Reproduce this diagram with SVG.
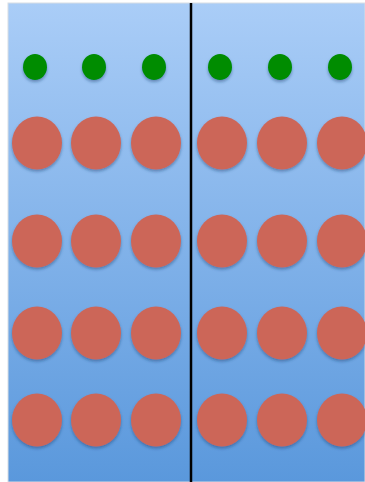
<svg xmlns="http://www.w3.org/2000/svg" width="365" height="482" viewBox="0 0 365 482">
<defs>
<linearGradient id="bg" x1="0" y1="0" x2="0" y2="1">
<stop offset="0" stop-color="#aacdf7"/>
<stop offset="1" stop-color="#5a98dc"/>
</linearGradient>
<filter id="sh" x="-30%" y="-30%" width="160%" height="170%">
<feGaussianBlur in="SourceAlpha" stdDeviation="1.5"/>
<feOffset dy="2" result="b"/>
<feFlood flood-color="#1a3d6b" flood-opacity="0.45"/>
<feComposite in2="b" operator="in"/>
<feMerge><feMergeNode/><feMergeNode in="SourceGraphic"/></feMerge>
</filter>
</defs>
<style>
.g{fill:#008c00;filter:url(#sh)}
.r{fill:#cc6659;filter:url(#sh)}
</style>
<rect width="365" height="482" fill="#ffffff"/>
<rect x="8" y="3" width="357" height="479" fill="url(#bg)" stroke="#d8dde3" stroke-width="1"/>
<g id="connectors">
<line x1="191" y1="3" x2="191" y2="482" stroke="#000" stroke-width="2.5"/>
</g>
<g id="green">
<ellipse class="g" cx="35" cy="67" rx="12" ry="13"/>
<ellipse class="g" cx="94" cy="67" rx="12" ry="13"/>
<ellipse class="g" cx="154" cy="67" rx="12" ry="13"/>
<ellipse class="g" cx="220" cy="67" rx="12" ry="13"/>
<ellipse class="g" cx="280" cy="67" rx="12" ry="13"/>
<ellipse class="g" cx="340" cy="67" rx="12" ry="13"/>
</g>
<g id="row1">
<ellipse class="r" cx="37" cy="143" rx="25" ry="26.5"/>
<ellipse class="r" cx="96" cy="143" rx="25" ry="26.5"/>
<ellipse class="r" cx="156" cy="143" rx="25" ry="26.5"/>
<ellipse class="r" cx="222" cy="143" rx="25" ry="26.5"/>
<ellipse class="r" cx="282" cy="143" rx="25" ry="26.5"/>
<ellipse class="r" cx="342" cy="143" rx="25" ry="26.5"/>
</g>
<g id="row2">
<ellipse class="r" cx="37" cy="241" rx="25" ry="26.5"/>
<ellipse class="r" cx="96" cy="241" rx="25" ry="26.5"/>
<ellipse class="r" cx="156" cy="241" rx="25" ry="26.5"/>
<ellipse class="r" cx="222" cy="241" rx="25" ry="26.5"/>
<ellipse class="r" cx="282" cy="241" rx="25" ry="26.5"/>
<ellipse class="r" cx="342" cy="241" rx="25" ry="26.5"/>
</g>
<g id="row3">
<ellipse class="r" cx="37" cy="333" rx="25" ry="26.5"/>
<ellipse class="r" cx="96" cy="333" rx="25" ry="26.5"/>
<ellipse class="r" cx="156" cy="333" rx="25" ry="26.5"/>
<ellipse class="r" cx="222" cy="333" rx="25" ry="26.5"/>
<ellipse class="r" cx="282" cy="333" rx="25" ry="26.5"/>
<ellipse class="r" cx="342" cy="333" rx="25" ry="26.5"/>
</g>
<g id="row4">
<ellipse class="r" cx="37" cy="420" rx="25" ry="26.5"/>
<ellipse class="r" cx="96" cy="420" rx="25" ry="26.5"/>
<ellipse class="r" cx="156" cy="420" rx="25" ry="26.5"/>
<ellipse class="r" cx="222" cy="420" rx="25" ry="26.5"/>
<ellipse class="r" cx="282" cy="420" rx="25" ry="26.5"/>
<ellipse class="r" cx="342" cy="420" rx="25" ry="26.5"/>
</g>
</svg>
